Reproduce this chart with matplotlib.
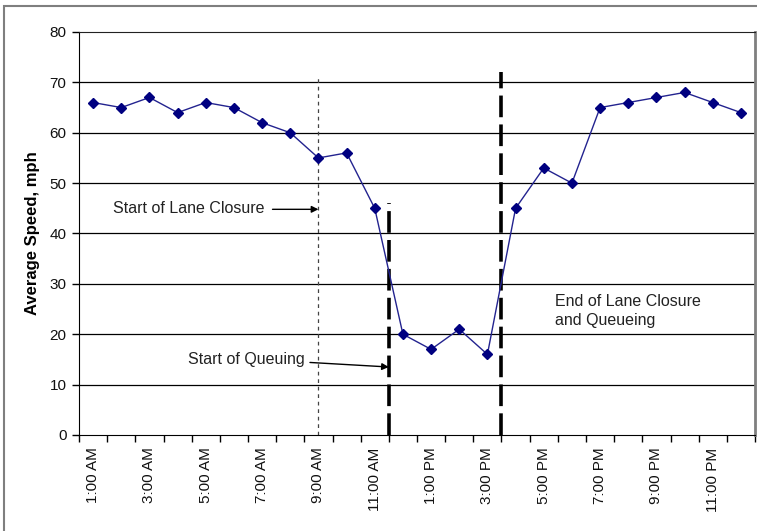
import matplotlib.pyplot as plt
from matplotlib.patches import Rectangle

plt.rcParams['font.family'] = ['Liberation Sans', 'DejaVu Sans']

# hourly categories and average speeds
hours = ['1:00 AM', '2:00 AM', '3:00 AM', '4:00 AM', '5:00 AM', '6:00 AM',
         '7:00 AM', '8:00 AM', '9:00 AM', '10:00 AM', '11:00 AM', '12:00 PM',
         '1:00 PM', '2:00 PM', '3:00 PM', '4:00 PM', '5:00 PM', '6:00 PM',
         '7:00 PM', '8:00 PM', '9:00 PM', '10:00 PM', '11:00 PM', '12:00 AM']
speed = [66, 65, 67, 64, 66, 65, 62, 60, 55, 56, 45, 20,
         17, 21, 16, 45, 53, 50, 65, 66, 67, 68, 66, 64]

# event markers: (category position, top of line)
lane_closure = (8, 71)
queue_start = (10.5, 46)
queue_end = (14.5, 72)

fig = plt.figure(figsize=(7.57, 5.31), dpi=100)
ax = fig.add_axes([79 / 757, 1 - 435 / 531, 676 / 757, 403 / 531])

# chart area frame
fig.patches.append(Rectangle((4 / 757, -0.05), 1.1, 1 - 6 / 531 + 0.05,
                             transform=fig.transFigure, fill=False,
                             edgecolor='#7f7f7f', lw=1.5, zorder=0))

x = list(range(len(hours)))

for yv in range(10, 80, 10):
    ax.axhline(yv, color='black', lw=0.9, zorder=1)

ax.vlines(lane_closure[0], 0, lane_closure[1], color='#444444', lw=0.9,
          linestyles=(0, (3, 3)), zorder=2)
ax.vlines(queue_start[0], 0, queue_start[1], color='black', lw=2.6,
          linestyles=(0, (6, 2)), zorder=2)
ax.vlines(queue_end[0], 0, queue_end[1], color='black', lw=2.6,
          linestyles=(0, (6, 2)), zorder=2)

ax.plot(x, speed, color='#23238f', lw=1.0, marker='D', markersize=5.5,
        markerfacecolor='#000080', markeredgecolor='#000080', zorder=3)

ax.set_xlim(-0.5, len(hours) - 0.5)
ax.set_ylim(0, 80)
ax.set_yticks(range(0, 81, 10))
ax.set_xticks(x[::2])
ax.set_xticklabels(hours[::2], rotation=90)
ax.set_xticks([i - 0.5 for i in range(len(hours) + 1)], minor=True)
ax.tick_params(axis='x', which='major', length=0, pad=9, labelsize=11,
               labelcolor='#111111')
ax.tick_params(axis='x', which='minor', length=5, width=1, direction='out')
ax.tick_params(axis='y', length=5, width=1, direction='out', labelsize=11,
               labelcolor='#111111', pad=4)
ax.set_ylabel('Average Speed, mph', fontsize=12, fontweight='bold',
              labelpad=7)

ax.spines['top'].set_color('#222222')
ax.spines['right'].set_color('#7f7f7f')
ax.spines['right'].set_linewidth(2)

ax.text(6.07, 45, 'Start of Lane Closure', ha='right', va='center',
        fontsize=11.5, color='#222222')
ax.annotate('', xy=(lane_closure[0], 44.8), xytext=(6.37, 44.8),
            arrowprops=dict(arrowstyle='-|>', color='black', lw=1,
                            mutation_scale=10, shrinkA=0, shrinkB=0))
ax.text(7.5, 14.9, 'Start of Queuing', ha='right', va='center',
        fontsize=11.5, color='#222222')
ax.annotate('', xy=(queue_start[0], 13.5), xytext=(7.7, 14.4),
            arrowprops=dict(arrowstyle='-|>', color='black', lw=1,
                            mutation_scale=10, shrinkA=0, shrinkB=0))
ax.text(16.4, 24.6, 'End of Lane Closure\nand Queueing', ha='left',
        va='center', fontsize=11.5, color='#222222', linespacing=1.35)

fig.savefig('out.png', dpi=100)
